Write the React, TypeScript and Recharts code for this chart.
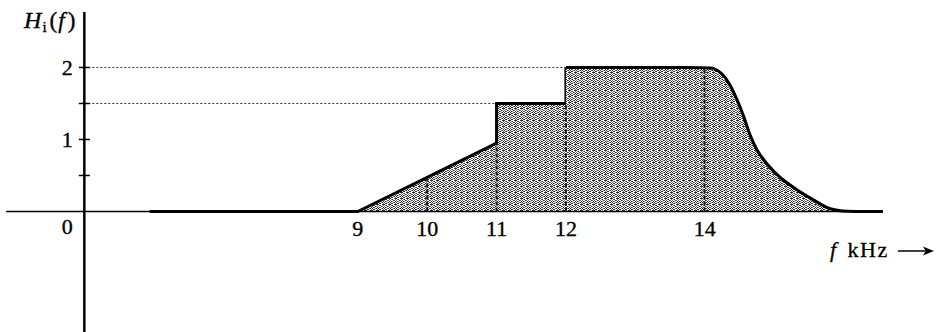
import { ComposedChart, Area, XAxis, YAxis, ReferenceLine, ReferenceDot } from 'recharts';

// H_i(f): zero, ramp from 9 to 11 kHz, steps at 11 and 12 kHz
const rampF = [6, 9, 10, 11, 11, 12, 12];
const rampH = [0, 0, 0.475, 0.95, 1.5, 1.5, 2];

// flat top at 2 and the smooth roll-off after 14 kHz
const rollF = [12, 14, 14.12, 14.25, 14.37, 14.46, 14.56, 14.65, 14.75, 14.9, 15.09, 15.33, 15.57, 15.76, 15.9, 16.57];
const rollH = [2, 2, 2, 1.93, 1.76, 1.57, 1.34, 1.06, 0.85, 0.65, 0.46, 0.3, 0.16, 0.05, 0, 0];

// dashed drop lines inside the shaded area
const dropF = [10, 11, 12, 14];
const dropH = [0.475, 0.95, 1.5, 2];

const xTickLabels = [9, 10, 11, 12, 14];
const yTickMarks = [0.5, 1, 1.5, 2];
const yTickLabels = [1, 2];

// dotted guides from the vertical axis
const guideH = [2, 1.5];
const guideTo = [12, 11];

// the drawing is not to scale left of 9 kHz: the vertical axis sits here
const AXIS_F = 5.057;
const X_DOMAIN: [number, number] = [3.841, 17.379];
const Y_DOMAIN: [number, number] = [-1.674, 2.9375];
const X_LINE: [number, number] = [3.93, 16.57];
const Y_TOP = 2.77;

const serif = '"Liberation Serif", "Times New Roman", serif';

const rampData = rampF.map((f, i) => ({ f, h: rampH[i] }));
const rollData = rollF.map((f, i) => ({ f, h: rollH[i] }));

const txt = (s: string, dx: number, dy: number, anchor = 'middle') => (props: any) => {
  const { x, y } = props.viewBox;
  return (
    <text
      x={x + dx}
      y={y + dy}
      textAnchor={anchor}
      style={{ fontFamily: serif }}
      fontSize={22}
      fill="#000"
      stroke="#000"
      strokeWidth={0.35}
    >
      {s}
    </text>
  );
};

const hLabel = (props: any) => {
  const { x, y } = props.viewBox;
  return (
    <text
      x={x - 9}
      y={y + 16}
      textAnchor="end"
      style={{ fontFamily: serif }}
      fontSize={23}
      fill="#000"
      stroke="#000"
      strokeWidth={0.35}
    >
      <tspan fontStyle="italic" fontSize={24}>H</tspan>
      <tspan fontSize={15} dy={4} dx={1}>i</tspan>
      <tspan dy={-4} dx={3}>(</tspan>
      <tspan fontStyle="italic" dx={1}>f</tspan>
      <tspan dx={3}>)</tspan>
    </text>
  );
};

const fLabel = (props: any) => {
  const { x, y } = props.viewBox;
  return (
    <g>
      <text
        x={x - 53}
        y={y + 45.5}
        style={{ fontFamily: serif, letterSpacing: 1.5 }}
        fontSize={22}
        fill="#000"
        stroke="#000"
        strokeWidth={0.3}
      >
        <tspan fontStyle="italic">f</tspan>
        <tspan dx={10}>kHz</tspan>
      </text>
      <line x1={x + 15} y1={y + 39.5} x2={x + 44} y2={y + 39.5} stroke="#000" strokeWidth={1.5} />
      <path d={`M${x + 51} ${y + 39.5} L${x + 40} ${y + 35} L${x + 43} ${y + 39.5} L${x + 40} ${y + 44} Z`} fill="#000" />
    </g>
  );
};

export default function App() {
  return (
    <div style={{ position: 'absolute', left: 0, top: 0, background: '#fff' }}>
      <ComposedChart width={939} height={332} margin={{ top: 0, right: 0, bottom: 0, left: 0 }}>
        <defs>
          <pattern id="stipple" width={6} height={6} patternUnits="userSpaceOnUse">
            <rect width={6} height={6} fill="#fff" />
            <path
              shapeRendering="crispEdges"
              fill="#2a2a2a"
              d="M0 0h1v1H0z M4 0h1v1H4z M2 1h1v1H2z M3 2h1v1H3z M1 3h1v1H1z M5 3h1v1H5z M0 4h1v1H0z M4 4h1v1H4z M2 5h1v1H2z M5 0h1v1H5z M1 5h1v1H1z"
            />
            <path
              shapeRendering="crispEdges"
              fill="#707070"
              d="M1 1h1v1H1z M5 1h1v1H5z M0 2h1v1H0z M3 4h1v1H3z M5 5h1v1H5z M2 3h1v1H2z M4 2h1v1H4z"
            />
          </pattern>
        </defs>
        <XAxis dataKey="f" type="number" domain={X_DOMAIN} allowDataOverflow hide />
        <YAxis type="number" domain={Y_DOMAIN} allowDataOverflow hide />

        {/* axes */}
        <ReferenceLine
          segment={[{ x: X_LINE[0], y: 0 }, { x: X_LINE[1], y: 0 }]}
          stroke="#000"
          strokeWidth={1.5}
          ifOverflow="visible"
        />
        <ReferenceLine
          segment={[{ x: AXIS_F, y: Y_DOMAIN[0] }, { x: AXIS_F, y: Y_TOP }]}
          stroke="#000"
          strokeWidth={2.5}
          ifOverflow="visible"
          label={hLabel}
        />

        {guideH.map((h, i) => (
          <ReferenceLine
            key={'g' + h}
            segment={[{ x: AXIS_F, y: h }, { x: guideTo[i], y: h }]}
            stroke="#333"
            strokeWidth={1}
            strokeDasharray="2 2"
            ifOverflow="visible"
          />
        ))}

        <Area
          data={rampData}
          dataKey="h"
          type="linear"
          baseValue={0}
          stroke="#000"
          strokeWidth={3}
          strokeLinejoin="miter"
          fill="url(#stipple)"
          fillOpacity={1}
          dot={false}
          activeDot={false}
          isAnimationActive={false}
        />
        <Area
          data={rollData}
          dataKey="h"
          type="basis"
          baseValue={0}
          stroke="#000"
          strokeWidth={3}
          fill="url(#stipple)"
          fillOpacity={1}
          dot={false}
          activeDot={false}
          isAnimationActive={false}
        />

        {dropF.map((f, i) => (
          <ReferenceLine
            key={'d' + f}
            segment={[{ x: f, y: 0 }, { x: f, y: dropH[i] }]}
            stroke="#1a1a1a"
            strokeWidth={2}
            strokeDasharray="4 2"
            ifOverflow="visible"
          />
        ))}

        {yTickMarks.map((h) => (
          <ReferenceLine
            key={'t' + h}
            segment={[{ x: AXIS_F - 0.08, y: h }, { x: AXIS_F + 0.08, y: h }]}
            stroke="#000"
            strokeWidth={1.5}
            ifOverflow="visible"
          />
        ))}
        {yTickLabels.map((h) => (
          <ReferenceDot key={'yl' + h} x={AXIS_F} y={h} r={0} fill="none" stroke="none" ifOverflow="visible" label={txt(String(h), -17, 7.5)} />
        ))}
        <ReferenceDot x={AXIS_F} y={0} r={0} fill="none" stroke="none" ifOverflow="visible" label={txt('0', -17, 23)} />
        {xTickLabels.map((f) => (
          <ReferenceDot key={'xl' + f} x={f} y={0} r={0} fill="none" stroke="none" ifOverflow="visible" label={txt(String(f), 0, 25)} />
        ))}
        <ReferenceDot x={X_LINE[1]} y={0} r={0} fill="none" stroke="none" ifOverflow="visible" label={fLabel} />
      </ComposedChart>
    </div>
  );
}
